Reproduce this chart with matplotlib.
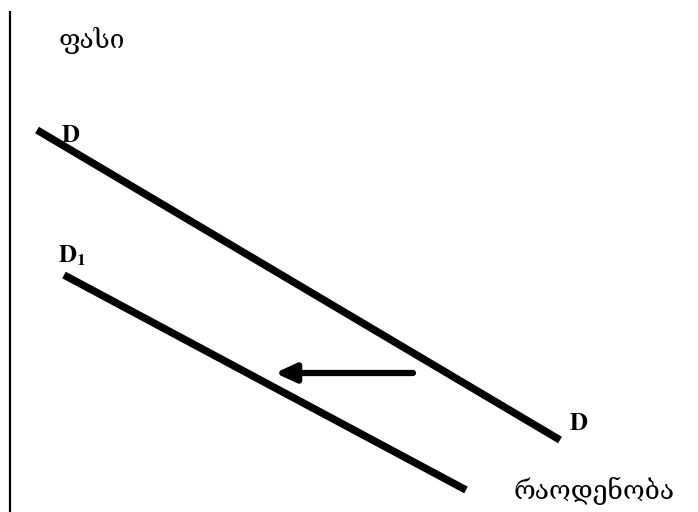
import matplotlib
matplotlib.use("Agg")
import matplotlib.pyplot as plt

# demand curves, endpoints (pixel space, y down)
D_x = [37, 560]
D_y = [130, 440]
D1_x = [64, 466]
D1_y = [275, 490]

# shift arrow (tail -> head)
arrow_x = [413, 275]
arrow_y = [373, 373]

# price axis
axis_x = [10, 10]
axis_y = [11, 512]

price_label = "ფასი"
qty_label = "რაოდენობა"

plt.rcParams["mathtext.fontset"] = "stix"

fig = plt.figure(figsize=(6.98, 5.12), dpi=100)
ax = fig.add_axes([0, 0, 1, 1])
ax.set_xlim(0, 698)
ax.set_ylim(512, 0)
ax.axis("off")

ax.plot(axis_x, axis_y, color="black", lw=1.6, solid_capstyle="butt")
ax.plot(D_x, D_y, color="black", lw=5.4, solid_capstyle="butt")
ax.plot(D1_x, D1_y, color="black", lw=5.4, solid_capstyle="butt")

ax.annotate("", xy=(arrow_x[1], arrow_y[1]), xytext=(arrow_x[0], arrow_y[0]),
            arrowprops=dict(arrowstyle="-|>,head_length=1.2,head_width=0.55",
                            color="black", lw=4.5, shrinkA=0, shrinkB=0))

georgian = ["DejaVu Serif", "DejaVu Sans"]
ax.text(59, 48, price_label, family=georgian, fontsize=19, ha="left", va="baseline")
ax.text(514, 499, qty_label, family=georgian, fontsize=19, ha="left", va="baseline")

ax.text(61, 142, r"$\mathbf{D}$", fontsize=18, ha="left", va="baseline")
ax.text(58, 262, r"$\mathbf{D_1}$", fontsize=18, ha="left", va="baseline")
ax.text(569, 430, r"$\mathbf{D}$", fontsize=18, ha="left", va="baseline")

fig.savefig("out.png", dpi=100)
